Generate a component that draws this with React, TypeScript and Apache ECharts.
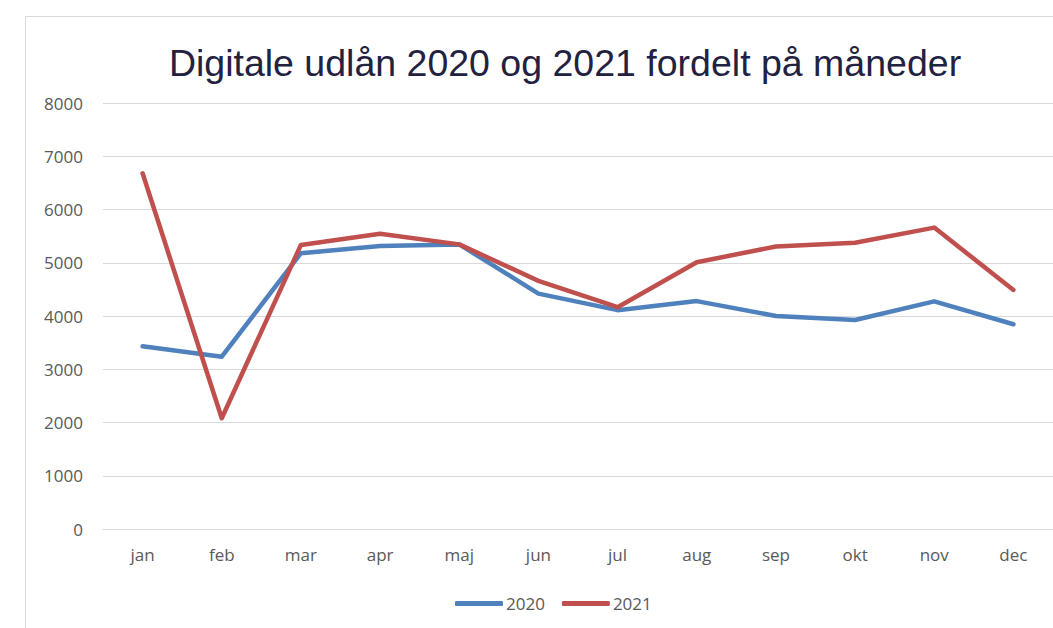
import React, { useEffect, useRef } from "react";
import * as echarts from "echarts";

const months = ["jan", "feb", "mar", "apr", "maj", "jun", "jul", "aug", "sep", "okt", "nov", "dec"];
const values2020 = [3430, 3235, 5180, 5315, 5345, 4420, 4110, 4280, 4000, 3925, 4275, 3845];
const values2021 = [6680, 2080, 5335, 5545, 5345, 4660, 4165, 5010, 5305, 5375, 5660, 4490];
const yTicks = { min: 0, max: 8000, interval: 1000 };

export default function App() {
  const ref = useRef<HTMLDivElement>(null);
  useEffect(() => {
    if (!ref.current) return;
    const chart = echarts.init(ref.current, null, { renderer: "svg" });
    const labelFont = "'Open Sans', 'Liberation Sans', sans-serif";
    chart.setOption({
      animation: false,
      backgroundColor: "#ffffff",
      graphic: [
        {
          type: "rect",
          shape: { x: 25.5, y: 16.5, width: 1200, height: 800 },
          style: { fill: "none", stroke: "#d9d9d9", lineWidth: 1 },
          silent: true,
          z: -1,
        },
      ],
      title: {
        text: "Digitale udlån 2020 og 2021 fordelt på måneder",
        left: 560,
        textAlign: "center",
        top: 39,
        textStyle: {
          fontFamily: "'Liberation Sans', Arial, sans-serif",
          fontSize: 37.5,
          fontWeight: "normal",
          color: "#22213f",
        },
      },
      grid: { left: 103, top: 103, width: 954, height: 426, containLabel: false },
      xAxis: {
        type: "category",
        data: months,
        boundaryGap: true,
        axisLine: { show: true, lineStyle: { color: "#d9d9d9", width: 1 } },
        axisTick: { show: false },
        axisLabel: { color: "#595959", fontSize: 17, fontFamily: labelFont, margin: 17 },
        splitLine: { show: false },
      },
      yAxis: {
        type: "value",
        min: yTicks.min,
        max: yTicks.max,
        interval: yTicks.interval,
        axisLine: { show: false },
        axisTick: { show: false },
        axisLabel: {
          color: "#595959",
          fontSize: 17,
          fontFamily: labelFont,
          margin: 20,
          formatter: (v: number) => String(v),
        },
        splitLine: { lineStyle: { color: "#d9d9d9", width: 1 } },
      },
      legend: {
        bottom: 11,
        left: 450,
        itemWidth: 48,
        itemHeight: 5,
        itemGap: 17,
        icon: "roundRect",
        textStyle: { color: "#595959", fontSize: 17, fontFamily: labelFont, padding: [0, 0, 0, -2] },
        data: ["2020", "2021"],
      },
      series: [
        {
          name: "2020",
          type: "line",
          data: values2020,
          symbol: "none",
          lineStyle: { color: "#4f81bd", width: 4.5, cap: "round", join: "round" },
          itemStyle: { color: "#4f81bd" },
        },
        {
          name: "2021",
          type: "line",
          data: values2021,
          symbol: "none",
          lineStyle: { color: "#c0504d", width: 4.5, cap: "round", join: "round" },
          itemStyle: { color: "#c0504d" },
        },
      ],
    });
    return () => chart.dispose();
  }, []);
  return (
    <div
      ref={ref}
      style={{ position: "fixed", left: 0, top: 0, width: 1053, height: 628 }}
    />
  );
}
